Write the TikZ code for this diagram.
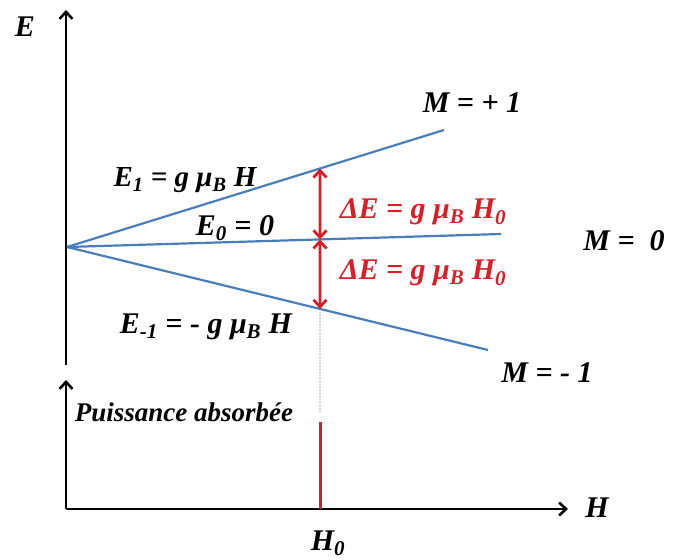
\documentclass[tikz,border=0pt]{standalone}
\usepackage{fontspec}
\setmainfont{Liberation Serif}
\usetikzlibrary{arrows.meta,calc}
\definecolor{lineblue}{RGB}{74,126,187}
\definecolor{arrred}{RGB}{218,30,40}
\tikzset{
  lbl/.style={font=\bfseries\itshape\fontsize{30}{32}\selectfont, inner sep=0pt},
  redlbl/.style={lbl, text=arrred},
  smalllbl/.style={font=\bfseries\itshape\fontsize{27}{29}\selectfont, inner sep=0pt},
  axis/.style={line width=2.6pt, -{Straight Barb[length=7pt,width=13pt]}},
  level/.style={line width=2.2pt, lineblue},
  gap/.style={line width=2.8pt, arrred, {Straight Barb[length=7pt,width=13pt]}-{Straight Barb[length=7pt,width=13pt]}},
}
\begin{document}
\begin{tikzpicture}[x=1pt,y=-1pt]
\useasboundingbox (0,0) rectangle (673,560);
% coordinates
\coordinate (O) at (67,247);
\coordinate (A) at (444,130);
\coordinate (B) at (501,234);
\coordinate (C) at (488,350);
\coordinate (Ebot) at (66,365);
\coordinate (Etop) at (66,10);
\coordinate (P0) at (66,509);
\coordinate (Ptop) at (66,380);
\coordinate (Hend) at (568,509);
\coordinate (X1) at ($(O)!0.671!(A)$);
\coordinate (X0) at ($(O)!0.583!(B)$);
\coordinate (Xm) at ($(O)!0.601!(C)$);
\coordinate (D) at (320,412);
\coordinate (R1) at (320,422);
\coordinate (R0) at (320,509);
% axes
\draw[axis] (Ebot) -- (Etop);
\draw[axis] (P0) -- (Ptop);
\draw[axis] (P0) -- (Hend);
% levels
\draw[level] (O) -- (A);
\draw[level] (O) -- (B);
\draw[level] (O) -- (C);
% gaps
\draw[gap] (X1) -- (X0);
\draw[gap] (X0) -- (Xm);
\draw[gray!80!black, line width=0.7pt, dash pattern=on 1.5pt off 1.5pt] (Xm) -- (D);
\draw[arrred, line width=3pt] (R1) -- (R0);
% labels
\node[lbl] (lE) at (25,27) {E};
\node[lbl] (lMp) at (472,103) {M = + 1};
\node[lbl] (lM0) at (624,241) {M =\ \ 0};
\node[lbl] (lMm) at (547,373) {M = - 1};
\node[lbl, font=\bfseries\itshape\fontsize{29}{31}\selectfont] (lE1) at (185,180) {E\textsubscript{1} = g μ\textsubscript{B} H};
\node[lbl] (lE0) at (235,228) {E\textsubscript{0} = 0};
\node[lbl] (lEm) at (206,327) {E\textsubscript{-1} = - g μ\textsubscript{B} H};
\node[redlbl] (lD1) at (423,212) {ΔE = g μ\textsubscript{B} H\textsubscript{0}};
\node[redlbl] (lD2) at (423,273) {ΔE = g μ\textsubscript{B} H\textsubscript{0}};
\node[smalllbl] (lP) at (184,412) {Puissance absorbée};
\node[lbl] (lH) at (597,508) {H};
\node[lbl] (lH0) at (328,543) {H\textsubscript{0}};
\end{tikzpicture}
\end{document}
